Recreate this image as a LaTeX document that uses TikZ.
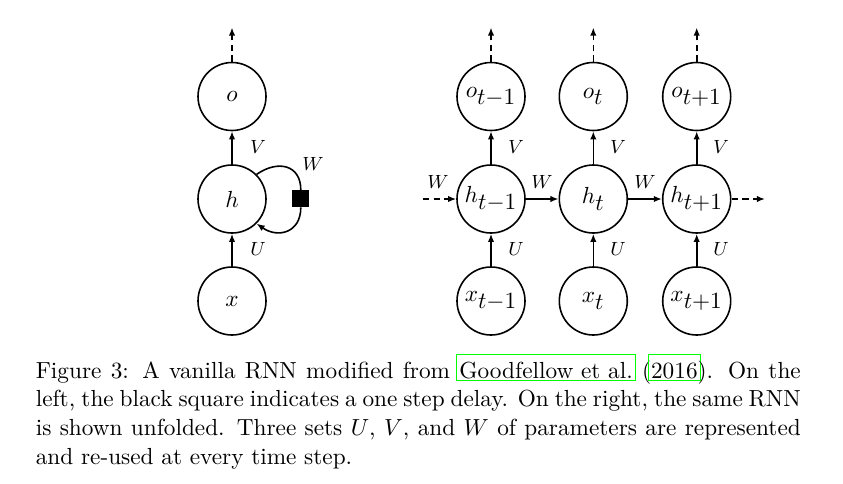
\documentclass[tikz,border=0pt]{standalone}
\usetikzlibrary{arrows.meta}
\newcommand\lnk[1]{\leavevmode\rlap{\hspace*{-1.6pt}\textcolor{green}{\setlength{\fboxsep}{0pt}\setlength{\fboxrule}{0.6pt}\fbox{\hspace*{1pt}\phantom{#1}\hspace*{1pt}\rule[-1pt]{0pt}{11.8pt}}}}\mbox{#1}}
\begin{document}
\begin{tikzpicture}[x=0.4706pt,y=-0.4706pt, line width=0.75pt,
  unit/.style={circle,draw,minimum size=32pt,inner sep=0pt,font=\fontsize{10.95}{13.6}\selectfont},
  lbl/.style={font=\fontsize{9.5}{11.4}\selectfont,inner sep=0pt},
  arr/.style={-{Latex[length=3.8pt,width=3pt]}},
  darr/.style={arr,densely dashed},
  delay/.style={fill=black,draw=black,minimum size=7.4pt,inner sep=0pt}]
\useasboundingbox (0,0) rectangle (843,483);
% ---- folded RNN ----
\node[unit] (o) at (232,96.5) {$o$};
\node[unit] (h) at (232,199) {$h$};
\node[unit] (x) at (232,301) {$x$};
\coordinate (otop) at (232,27.5);
\draw[arr] (x) -- (h);
\draw[arr] (h) -- (o);
\draw[darr] (o) -- (otop);
\node[delay] (sq) at (300.8,198.7) {};
\draw (h.45) to[out=35,in=90,looseness=1.4] (sq.north);
\draw[arr] (sq.south) to[out=-90,in=-35,looseness=1.4] (h.-45);
\node[lbl] (lV) at (258,147) {$V$};
\node[lbl] (lU) at (258,249) {$U$};
\node[lbl] (lW) at (313,164) {$W$};
% ---- unfolded RNN ----
\node[unit] (o1) at (491,96.5) {$o_{\textstyle t{-}1}$};
\node[unit] (o2) at (593.3,96.5) {$o_{\textstyle t}$};
\node[unit] (o3) at (696.7,96.5) {$o_{\textstyle t{+}1}$};
\node[unit] (h1) at (491,199) {$h_{\textstyle t{-}1}$};
\node[unit] (h2) at (593.3,199) {$h_{\textstyle t}$};
\node[unit] (h3) at (696.7,199) {$h_{\textstyle t{+}1}$};
\node[unit] (x1) at (491,301) {$x_{\textstyle t{-}1}$};
\node[unit] (x2) at (593.3,301) {$x_{\textstyle t}$};
\node[unit] (x3) at (696.7,301) {$x_{\textstyle t{+}1}$};
\coordinate (t1) at (491,27.5);
\coordinate (t2) at (593.3,27.5);
\coordinate (t3) at (696.7,27.5);
\coordinate (inl) at (423,199);
\coordinate (outr) at (765,199);
\draw[arr] (x1) -- (h1);
\draw[arr] (x2) -- (h2);
\draw[arr] (x3) -- (h3);
\draw[arr] (h1) -- (o1);
\draw[arr] (h2) -- (o2);
\draw[arr] (h3) -- (o3);
\draw[darr] (o1) -- (t1);
\draw[darr] (o2) -- (t2);
\draw[darr] (o3) -- (t3);
\draw[darr] (inl) -- (h1);
\draw[arr] (h1) -- (h2);
\draw[arr] (h2) -- (h3);
\draw[darr] (h3) -- (outr);
\node[lbl] (V1) at (516,147) {$V$};
\node[lbl] (V2) at (618,147) {$V$};
\node[lbl] (V3) at (721,147) {$V$};
\node[lbl] (U1) at (516,249) {$U$};
\node[lbl] (U2) at (618,249) {$U$};
\node[lbl] (U3) at (721,249) {$U$};
\node[lbl] (W1) at (438,182) {$W$};
\node[lbl] (W2) at (542,182) {$W$};
\node[lbl] (W3) at (645,182) {$W$};
% ---- caption ----
\node[anchor=base west, inner sep=0pt, text width=360pt, align=justify,
  font=\fontsize{10.95}{13.6}\selectfont] (cap) at (35,378)
 {Figure 3: A vanilla RNN modified from \lnk{Goodfellow et~al.}\ (\lnk{2016}). On the left, the black square indicates a one step delay. On the right, the same RNN is shown unfolded. Three sets $U$, $V$, and $W$ of parameters are represented and re-used at every time step.};
\end{tikzpicture}
\end{document}
